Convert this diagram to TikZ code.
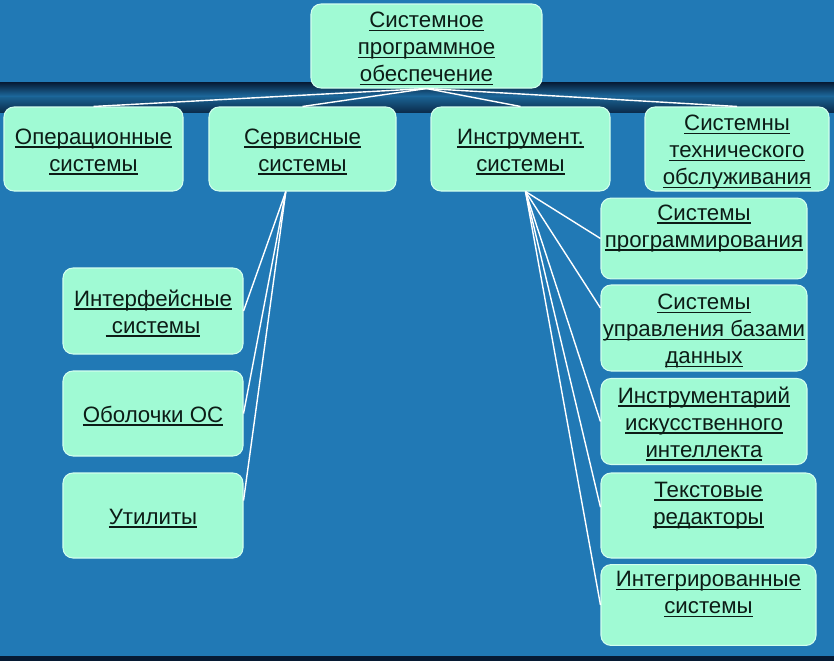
\documentclass[tikz,border=0pt]{standalone}
\usepackage{fontspec}
\setmainfont{Liberation Sans}
\usetikzlibrary{calc}
\definecolor{bgblue}{HTML}{2179B5}
\definecolor{navy}{HTML}{061A33}
\definecolor{mint}{HTML}{A0FAD4}
\definecolor{mintline}{HTML}{D2FFEE}
\definecolor{inkdark}{HTML}{0C1C16}
\newcommand\linestrut{\rule[-4pt]{0pt}{23pt}}
\newcommand\ul[1]{\setbox0\hbox{#1}\rlap{\rule[-3pt]{\wd0}{1.3pt}}\box0\linestrut}

\begin{document}
\begin{tikzpicture}[x=0.03cm, y=-0.03cm,
  box/.style={draw=mintline, line width=0.9pt, fill=mint, rounded corners=0.3cm,
    inner sep=0pt, align=center, text=inkdark,
    font=\fontsize{19pt}{23pt}\selectfont},
  link/.style={draw=white, line width=1.2pt}]

  % --- background and band ---
  \fill[bgblue] (0,0) rectangle (834,661);
  \useasboundingbox (0,0) rectangle (834,661);
  \shade[top color=navy, bottom color=bgblue!90!black] (0,82) rectangle (834,97);
  \shade[top color=bgblue!80!black, bottom color=navy!80!bgblue] (0,97) rectangle (834,112);
  \fill[navy] (0,656) rectangle (834,661);

  % --- root ---
  \node[box, minimum width=6.93cm, minimum height=2.52cm] (spo) at (426.5,46)
    {\ul{Системное}\\\ul{программное}\\\ul{обеспечение}};

  % --- second level ---
  \node[box, minimum width=5.37cm, minimum height=2.52cm] (os) at (93.5,149)
    {\ul{Операционные}\\\ul{системы}};
  \node[box, minimum width=5.61cm, minimum height=2.52cm] (serv) at (302.5,149)
    {\ul{Сервисные}\\\ul{системы}};
  \node[box, minimum width=5.37cm, minimum height=2.52cm] (instr) at (520.5,149)
    {\ul{Инструмент.}\\\ul{системы}};
  \node[box, minimum width=5.52cm, minimum height=2.52cm] (maint) at (737,149)
    {\ul{Системны}\\\ul{технического}\\\ul{обслуживания}};

  % --- service systems ---
  \node[box, minimum width=5.4cm, minimum height=2.58cm] (intf) at (153,311)
    {\ul{Интерфейсные}\\\ul{~системы}};
  \node[box, minimum width=5.4cm, minimum height=2.55cm] (shell) at (153,413.5)
    {\ul{Оболочки ОС}};
  \node[box, minimum width=5.4cm, minimum height=2.55cm] (util) at (153,515.5)
    {\ul{Утилиты}};

  % --- tool systems ---
  \node[box, minimum width=6.18cm, minimum height=2.31cm] (prog) at (704,238.5)
    {\ul{Системы}\\\ul{программирования}\\\linestrut};
  \node[box, minimum width=6.18cm, minimum height=2.58cm] (dbms) at (704,328)
    {\ul{Системы}\\\ul{управления базами}\\\ul{данных}};
  \node[box, minimum width=6.18cm, minimum height=2.58cm] (ai) at (704,421.5)
    {\ul{Инструментарий}\\\ul{искусственного}\\\ul{интеллекта}};
  \node[box, minimum width=6.45cm, minimum height=2.55cm] (edit) at (708.5,515.5)
    {\ul{Текстовые}\\\ul{редакторы}\\\linestrut};
  \node[box, minimum width=6.45cm, minimum height=2.31cm] (integ) at (708.5,605)
    {\ul{Интегрированные}\\\ul{системы}\\\linestrut};

  % --- connectors ---
  \foreach \n in {os, serv, instr, maint}
    \draw[link] (spo.south) -- (\n.north);
  \draw[link] ([xshift=-0.5cm]serv.south) -- (intf.east);
  \draw[link] ([xshift=-0.5cm]serv.south) -- (shell.east);
  \draw[link] ([xshift=-0.5cm]serv.south) -- ([yshift=0.45cm]util.east);
  \draw[link] ([xshift=0.15cm]instr.south) -- (prog.west);
  \draw[link] ([xshift=0.15cm]instr.south) -- ([yshift=0.6cm]dbms.west);
  \draw[link] ([xshift=0.15cm]instr.south) -- (ai.west);
  \draw[link] ([xshift=0.15cm]instr.south) -- ([yshift=0.25cm]edit.west);
  \draw[link] ([xshift=0.15cm]instr.south) -- (integ.west);
\end{tikzpicture}
\end{document}
